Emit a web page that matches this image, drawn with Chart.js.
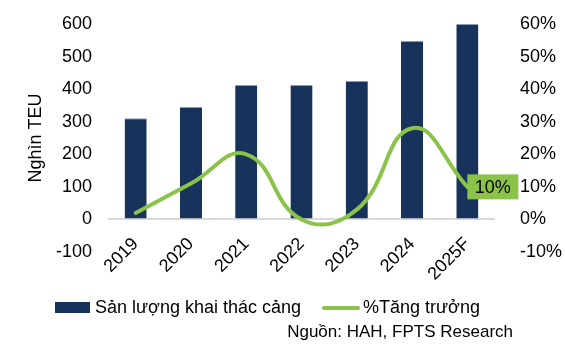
<!DOCTYPE html>
<html>
<head>
<meta charset="utf-8">
<script src="https://cdn.jsdelivr.net/npm/chart.js@4.4.0/dist/chart.umd.min.js"></script>
<style>
  body { margin: 0; background: #fff; font-family: "Liberation Sans", Arial, sans-serif; }
  #wrap { position: relative; width: 565px; height: 354px; }
  #chart { position: absolute; left: 0; top: 0; }
  .legend { position: absolute; top: 297px; font-size: 18px; color: #000; white-space: nowrap; }
  .swatch-bar { position: absolute; left: 55px; top: 302px; width: 35px; height: 11px; background: #17335C; }
  .swatch-line { position: absolute; left: 322px; top: 306px; width: 38px; height: 4px; background: #8BC34A; border-radius: 2px; }
  .source { position: absolute; right: 52px; top: 322px; font-size: 17px; color: #000; white-space: nowrap; }
</style>
</head>
<body>
<div id="wrap">
  <canvas id="chart" width="565" height="354"></canvas>
  <div class="swatch-bar"></div>
  <div class="legend" style="left:95px">Sản lượng khai thác cảng</div>
  <div class="swatch-line"></div>
  <div class="legend" style="left:363px">%Tăng trưởng</div>
  <div class="source">Nguồn: HAH, FPTS Research</div>
</div>
<script>
// ---------------- DATA ----------------
const years = ["2019", "2020", "2021", "2022", "2023", "2024", "2025F"];
const throughput = [311, 345, 413, 413, 425, 548, 600];   // Nghìn TEU
const growth = [2, 11, 20, 0, 3, 28, 10];                // %

const navy = "#17335C";
const green = "#8BC34A";

// label box on the last growth point
const lastLabel = {
    id: "lastLabel",
    afterDatasetsDraw(chart) {
        const meta = chart.getDatasetMeta(1);
        const pt = meta.data[meta.data.length - 1];
        const ctx = chart.ctx;
        ctx.save();
        ctx.fillStyle = green;
        ctx.fillRect(pt.x, pt.y - 12.5, 51, 25);
        ctx.fillStyle = "#000";
        ctx.font = "18px 'Liberation Sans', Arial, sans-serif";
        ctx.textAlign = "center";
        ctx.textBaseline = "middle";
        ctx.fillText(growth[growth.length - 1] + "%", pt.x + 25.5, pt.y + 1);
        ctx.restore();
    }
};

const tickFont = { family: "'Liberation Sans', Arial, sans-serif", size: 18 };

// fixed axis boxes so the plot area lands where the reference has it
function fixBox(width) {
    return axis => {
        if (width) axis.width = width;
        axis.paddingTop = 0;
        axis.paddingBottom = 0;
        axis.paddingLeft = 0;
        axis.paddingRight = 0;
    };
}

new Chart(document.getElementById("chart").getContext("2d"), {
    type: "bar",
    data: {
        labels: years,
        datasets: [
            {
                label: "Sản lượng khai thác cảng",
                data: throughput,
                backgroundColor: navy,
                borderColor: "#8a9bb3",
                borderWidth: { top: 1, left: 0, right: 0, bottom: 0 },
                barPercentage: 0.4,
                categoryPercentage: 1,
                yAxisID: "y",
                order: 1
            },
            {
                type: "line",
                label: "%Tăng trưởng",
                data: growth,
                borderColor: green,
                borderWidth: 4,
                pointRadius: 0,
                tension: 0.45,
                borderCapStyle: "round",
                yAxisID: "y1",
                order: 0
            }
        ]
    },
    options: {
        responsive: false,
        animation: false,
        layout: { padding: { top: 24, bottom: 102, left: 0, right: 0 } },
        plugins: {
            legend: { display: false },
            tooltip: { enabled: false }
        },
        scales: {
            x: {
                position: { y: 0 },
                grid: { display: false },
                border: { display: false },
                ticks: { font: tickFont, color: "#000", minRotation: 45, maxRotation: 45, padding: 6 },
                afterFit: fixBox(0)
            },
            y: {
                position: "left",
                min: -100,
                max: 600,
                ticks: { stepSize: 100, font: tickFont, color: "#000", padding: 16 },
                title: { display: true, text: "Nghìn TEU", font: tickFont, color: "#000", padding: { top: 25, bottom: 0 } },
                grid: {
                    drawTicks: false,
                    lineWidth: 2,
                    color: c => c.tick.value === 0 ? "#d9d9d9" : "transparent"
                },
                border: { display: false },
                afterFit: fixBox(108)
            },
            y1: {
                position: "right",
                min: -10,
                max: 60,
                ticks: { stepSize: 10, font: tickFont, color: "#000", padding: 17, callback: v => v + "%" },
                grid: { display: false },
                border: { display: false },
                afterFit: fixBox(70)
            }
        }
    },
    plugins: [lastLabel]
});
</script>
</body>
</html>
